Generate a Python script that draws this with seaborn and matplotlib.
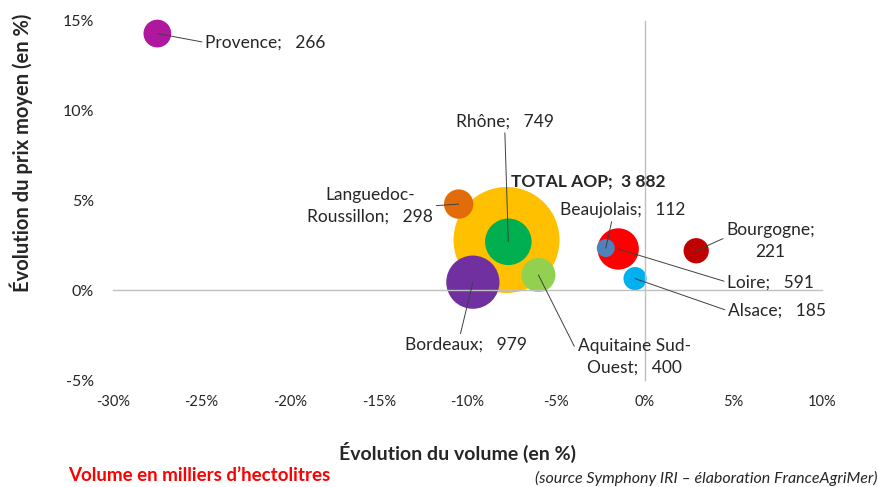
import matplotlib

matplotlib.use("Agg")
import matplotlib.pyplot as plt
import matplotlib.ticker as mticker
import pandas as pd
import seaborn as sns


# bubble data (drawing order: biggest first so small ones stay visible)
regions = [
    "TOTAL AOP", "Provence", "Languedoc-Roussillon", "Rhône", "Bordeaux",
    "Aquitaine Sud-Ouest", "Loire", "Beaujolais", "Alsace", "Bourgogne",
]
volume_change = [-7.8, -27.5, -10.5, -7.7, -9.7, -6.0, -1.5, -2.2, -0.55, 2.9]
price_change = [2.8, 14.3, 4.8, 2.7, 0.45, 0.85, 2.3, 2.35, 0.65, 2.2]
volumes = [3882, 266, 298, 749, 979, 400, 591, 112, 185, 221]
labels = [
    "TOTAL AOP;  3 882", "Provence;   266", "Languedoc-\nRoussillon;   298",
    "Rhône;   749", "Bordeaux;   979", "Aquitaine Sud-\nOuest;   400",
    "Loire;   591", "Beaujolais;   112", "Alsace;   185", "Bourgogne;\n221",
]
colors = [
    "#FFC000", "#B0179F", "#E36C0A", "#00B050", "#7030A0",
    "#92D050", "#FF0000", "#4F81BD", "#00B0F0", "#C00000",
]

x_ticks = [-30, -25, -20, -15, -10, -5, 0, 5, 10]
y_ticks = [-5, 0, 5, 10, 15]

# where each label sits: (x, y, ha, relpos of leader on the text box or None)
label_layout = {
    "TOTAL AOP": (-7.56, 6.07, "left", None),
    "Provence": (-24.8, 13.8, "left", (0, 0.5)),
    "Languedoc-Roussillon": (-15.5, 4.7, "center", (1, 0.5)),
    "Rhône": (-7.9, 9.4, "center", (0.5, 0)),
    "Bordeaux": (-10.1, -3.05, "center", (0.45, 1)),
    "Aquitaine Sud-Ouest": (-0.6, -3.7, "center", (0, 0.6)),
    "Loire": (4.65, 0.45, "left", (0, 0.5)),
    "Beaujolais": (-4.8, 4.45, "left", (0.42, 0)),
    "Alsace": (4.7, -1.15, "left", (0, 0.5)),
    "Bourgogne": (7.1, 2.75, "center", (0, 0.6)),
}

sns.set_style("white")
plt.rcParams["font.family"] = ["Lato", "DejaVu Sans"]

AXIS_GREY = "#BFBFBF"
TEXT = "#262626"
LABEL_SIZE = 12.5

df = pd.DataFrame(
    {
        "region": regions,
        "volume_change": volume_change,
        "price_change": price_change,
        "volume": volumes,
        "label": labels,
    }
)

fig = plt.figure(figsize=(8.79, 4.87), dpi=100)
ax = fig.add_axes([0.1286, 0.2197, 0.8066, 0.7372])

vmin, vmax = min(volumes), max(volumes)
sns.scatterplot(
    data=df,
    x="volume_change",
    y="price_change",
    hue="region",
    palette=dict(zip(regions, colors)),
    size="volume",
    sizes=(1.5 * vmin, 1.5 * vmax),
    size_norm=(vmin, vmax),
    linewidth=0,
    alpha=1,
    legend=False,
    ax=ax,
    clip_on=False,
)

ax.set_xlim(-30, 10)
ax.set_ylim(-5, 15)
ax.set_xticks(x_ticks)
ax.set_yticks(y_ticks)
ax.xaxis.set_major_formatter(mticker.FuncFormatter(lambda v, _: f"{v:.0f}%"))
ax.yaxis.set_major_formatter(mticker.FuncFormatter(lambda v, _: f"{v:.0f}%"))

# axes cross at zero, tick labels stay on the outer edges
for side in ["top", "right"]:
    ax.spines[side].set_visible(False)
ax.spines["left"].set_position(("data", 0))
ax.spines["bottom"].set_position(("data", 0))
for side in ["left", "bottom"]:
    ax.spines[side].set_color(AXIS_GREY)
    ax.spines[side].set_linewidth(1)
ax.tick_params(axis="x", direction="out", length=3.5, color=AXIS_GREY,
               pad=72, labelsize=10.5, labelcolor=TEXT)
ax.tick_params(axis="y", direction="out", length=3.5, color=AXIS_GREY,
               pad=393, labelsize=11.5, labelcolor=TEXT)
ax.set_xlabel("")
ax.set_ylabel("")

for _, row in df.iterrows():
    tx, ty, ha, relpos = label_layout[row["region"]]
    if relpos is None:
        ax.text(tx, ty, row["label"], ha=ha, va="center", fontsize=LABEL_SIZE,
                fontweight="bold", color=TEXT)
        continue
    ax.annotate(
        row["label"],
        xy=(row["volume_change"], row["price_change"]),
        xytext=(tx, ty),
        ha=ha,
        va="center",
        multialignment="center",
        fontsize=LABEL_SIZE,
        color=TEXT,
        linespacing=1.45,
        arrowprops=dict(arrowstyle="-", color="#404040", lw=0.7,
                        shrinkA=0, shrinkB=0, relpos=relpos),
    )

fig.text(0.024, 0.686, "Évolution du prix moyen (en %)", rotation=90,
         ha="center", va="center", fontsize=14.5, fontweight="bold", color=TEXT)
fig.text(0.521, 0.07, "Évolution du volume (en %)", ha="center", va="center",
         fontsize=14, fontweight="bold", color=TEXT)
fig.text(0.077, 0.023, "Volume en milliers d’hectolitres", ha="left",
         va="center", fontsize=13.5, fontweight="bold", color="#FF0000")
fig.text(0.998, 0.018, "(source Symphony IRI – élaboration FranceAgriMer)",
         ha="right", va="center", fontsize=11.5, style="italic", color=TEXT)

fig.savefig("out.png", dpi=100)
